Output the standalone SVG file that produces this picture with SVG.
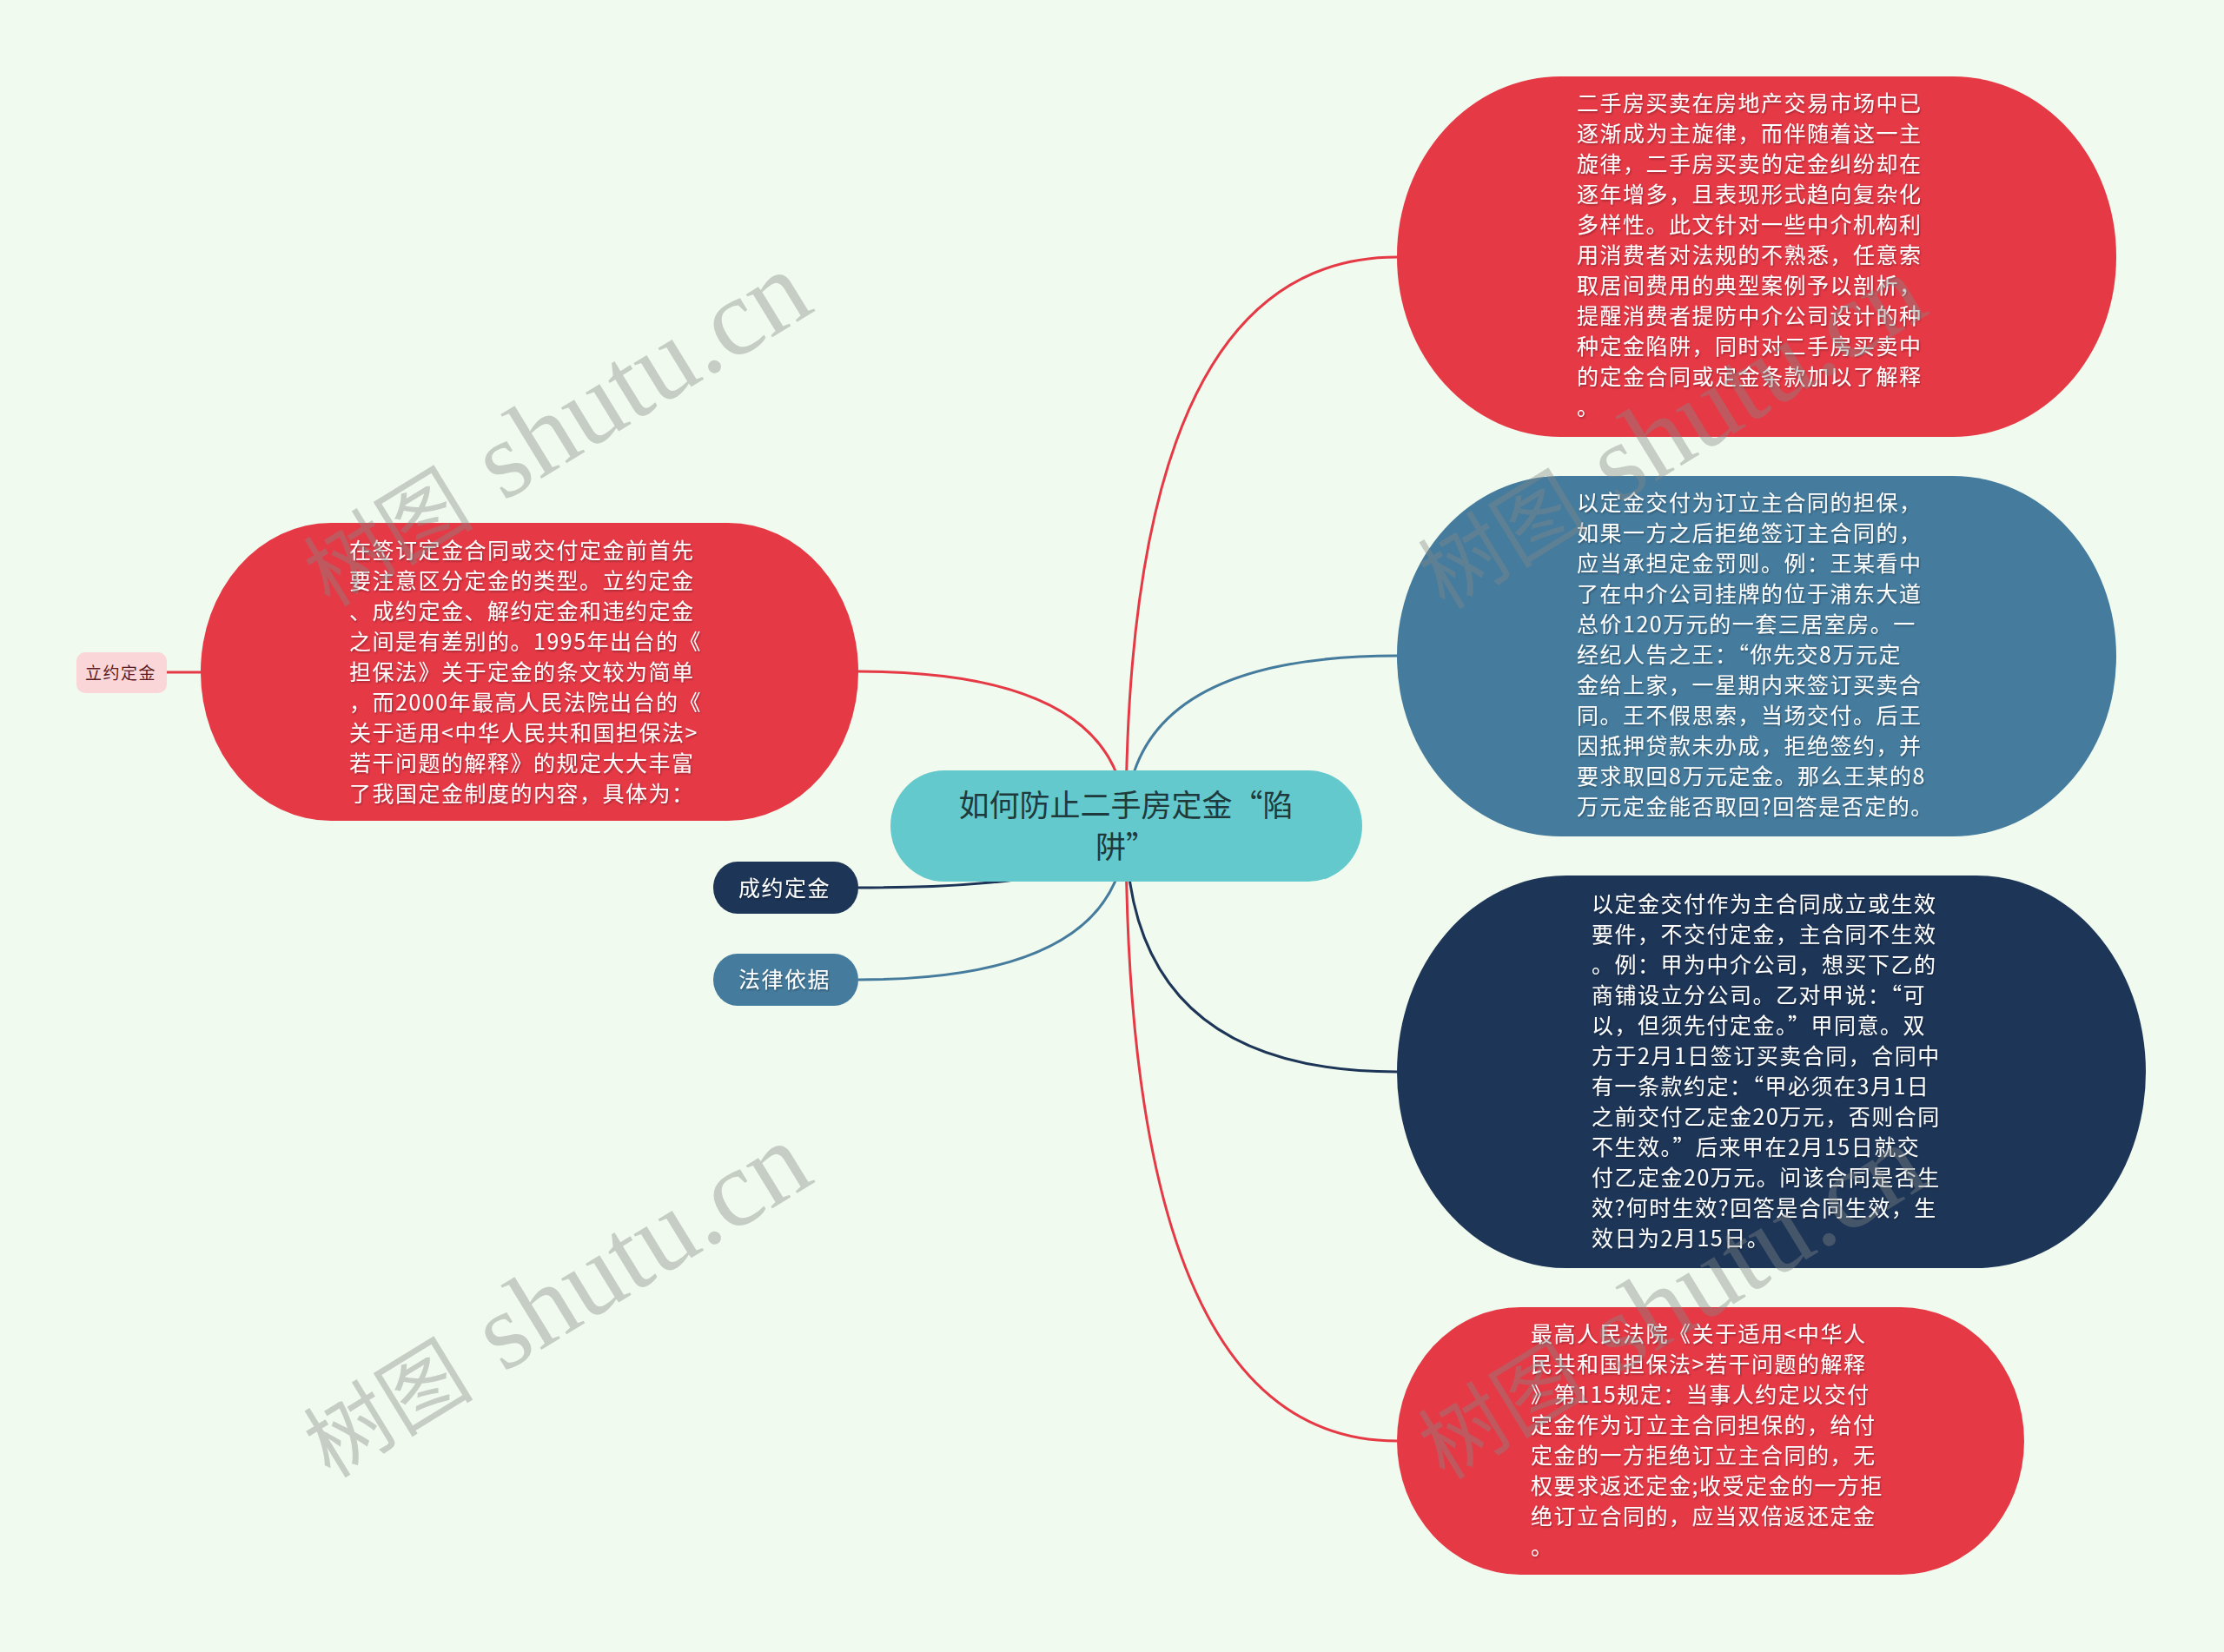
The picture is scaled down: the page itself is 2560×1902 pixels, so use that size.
<svg xmlns="http://www.w3.org/2000/svg" width="2560" height="1902" viewBox="0 0 2560 1902">
<defs>
<filter id="sh" x="-5%" y="-5%" width="110%" height="110%">
<feDropShadow dx="1" dy="1.5" stdDeviation="0.8" flood-color="#000" flood-opacity="0.35"/>
</filter>
</defs>
<style>
.red{fill:#e63946}
.blue{fill:#457b9d}
.navy{fill:#1d3557}
.root{fill:#63c9cc}
.pink{fill:#fad6d9}
.t{font-family:"Noto Sans CJK SC","Noto Sans",sans-serif;font-size:25px;letter-spacing:1.5px;fill:#ffffff;filter:url(#sh)}
.rt{font-family:"Noto Sans CJK SC","Noto Sans",sans-serif;font-size:35px;fill:#1e3a3c}
.lt{font-family:"Noto Sans CJK SC","Noto Sans",sans-serif;font-size:19px;letter-spacing:1.5px;fill:#5c1a22}
.c{fill:none;stroke-width:3}
.cr{stroke:#e63946}
.cb{stroke:#457b9d}
.cn{stroke:#1d3557}
.wm{font-family:"Liberation Serif","Noto Sans CJK SC",serif;fill:#858a86;fill-opacity:0.4}
</style>
<rect x="0" y="0" width="2560" height="1902" fill="#f1faee"/>
<g id="connectors">
<path class="c cr" d="M1296 951 Q1296 296 1608 296"/>
<path class="c cb" d="M1296 951 Q1296 755 1608 755"/>
<path class="c cn" d="M1296 951 Q1296 1234 1608 1234"/>
<path class="c cr" d="M1296 951 Q1296 1659 1608 1659"/>
<path class="c cr" d="M1296 951 Q1296 773 988 773"/>
<path class="c cn" d="M1296 951 Q1296 1022 988 1022"/>
<path class="c cb" d="M1296 951 Q1296 1128 988 1128"/>
<path class="c cr" d="M231 774 L192 774"/>
</g>
<g id="n-root">
<rect class="root" x="1025" y="887" width="543" height="128" rx="62" ry="64"/>
<text class="rt" text-anchor="middle"><tspan x="1296" y="940">如何防止二手房定金“陷</tspan><tspan x="1296" y="988">阱”</tspan></text>
</g>
<g id="n1">
<rect class="red" x="1608" y="88" width="828" height="415" rx="188" ry="207"/>
<text class="t">
<tspan x="1815" y="128">二手房买卖在房地产交易市场中已</tspan>
<tspan x="1815" y="163">逐渐成为主旋律，而伴随着这一主</tspan>
<tspan x="1815" y="198">旋律，二手房买卖的定金纠纷却在</tspan>
<tspan x="1815" y="233">逐年增多，且表现形式趋向复杂化</tspan>
<tspan x="1815" y="268">多样性。此文针对一些中介机构利</tspan>
<tspan x="1815" y="303">用消费者对法规的不熟悉，任意索</tspan>
<tspan x="1815" y="338">取居间费用的典型案例予以剖析，</tspan>
<tspan x="1815" y="373">提醒消费者提防中介公司设计的种</tspan>
<tspan x="1815" y="408">种定金陷阱，同时对二手房买卖中</tspan>
<tspan x="1815" y="443">的定金合同或定金条款加以了解释</tspan>
<tspan x="1815" y="478">。</tspan>
</text>
</g>
<g id="n2">
<rect class="blue" x="1608" y="548" width="828" height="415" rx="188" ry="207"/>
<text class="t">
<tspan x="1815" y="588">以定金交付为订立主合同的担保，</tspan>
<tspan x="1815" y="623">如果一方之后拒绝签订主合同的，</tspan>
<tspan x="1815" y="658">应当承担定金罚则。例：王某看中</tspan>
<tspan x="1815" y="693">了在中介公司挂牌的位于浦东大道</tspan>
<tspan x="1815" y="728">总价120万元的一套三居室房。一</tspan>
<tspan x="1815" y="763">经纪人告之王：“你先交8万元定</tspan>
<tspan x="1815" y="798">金给上家，一星期内来签订买卖合</tspan>
<tspan x="1815" y="833">同。王不假思索，当场交付。后王</tspan>
<tspan x="1815" y="868">因抵押贷款未办成，拒绝签约，并</tspan>
<tspan x="1815" y="903">要求取回8万元定金。那么王某的8</tspan>
<tspan x="1815" y="938">万元定金能否取回?回答是否定的。</tspan>
</text>
</g>
<g id="n3">
<rect class="navy" x="1608" y="1008" width="862" height="452" rx="195" ry="226"/>
<text class="t">
<tspan x="1832" y="1050">以定金交付作为主合同成立或生效</tspan>
<tspan x="1832" y="1085">要件，不交付定金，主合同不生效</tspan>
<tspan x="1832" y="1120">。例：甲为中介公司，想买下乙的</tspan>
<tspan x="1832" y="1155">商铺设立分公司。乙对甲说：“可</tspan>
<tspan x="1832" y="1190">以，但须先付定金。”甲同意。双</tspan>
<tspan x="1832" y="1225">方于2月1日签订买卖合同，合同中</tspan>
<tspan x="1832" y="1260">有一条款约定：“甲必须在3月1日</tspan>
<tspan x="1832" y="1295">之前交付乙定金20万元，否则合同</tspan>
<tspan x="1832" y="1330">不生效。”后来甲在2月15日就交</tspan>
<tspan x="1832" y="1365">付乙定金20万元。问该合同是否生</tspan>
<tspan x="1832" y="1400">效?何时生效?回答是合同生效，生</tspan>
<tspan x="1832" y="1435">效日为2月15日。</tspan>
</text>
</g>
<g id="n4">
<rect class="red" x="1608" y="1505" width="722" height="308" rx="142" ry="154"/>
<text class="t">
<tspan x="1762" y="1545">最高人民法院《关于适用&lt;中华人</tspan>
<tspan x="1762" y="1580">民共和国担保法&gt;若干问题的解释</tspan>
<tspan x="1762" y="1615">》第115规定：当事人约定以交付</tspan>
<tspan x="1762" y="1650">定金作为订立主合同担保的，给付</tspan>
<tspan x="1762" y="1685">定金的一方拒绝订立主合同的，无</tspan>
<tspan x="1762" y="1720">权要求返还定金;收受定金的一方拒</tspan>
<tspan x="1762" y="1755">绝订立合同的，应当双倍返还定金</tspan>
<tspan x="1762" y="1790">。</tspan>
</text>
</g>
<g id="n-left">
<rect class="red" x="231" y="602" width="757" height="343" rx="150" ry="171"/>
<text class="t">
<tspan x="402" y="643">在签订定金合同或交付定金前首先</tspan>
<tspan x="402" y="678">要注意区分定金的类型。立约定金</tspan>
<tspan x="402" y="713">、成约定金、解约定金和违约定金</tspan>
<tspan x="402" y="748">之间是有差别的。1995年出台的《</tspan>
<tspan x="402" y="783">担保法》关于定金的条文较为简单</tspan>
<tspan x="402" y="818">，而2000年最高人民法院出台的《</tspan>
<tspan x="402" y="853">关于适用&lt;中华人民共和国担保法&gt;</tspan>
<tspan x="402" y="888">若干问题的解释》的规定大大丰富</tspan>
<tspan x="402" y="923">了我国定金制度的内容，具体为：</tspan>
</text>
</g>
<g id="n-chengyue">
<rect class="navy" x="821" y="992" width="167" height="60" rx="28" ry="30"/>
<text class="t" x="850" y="1032">成约定金</text>
</g>
<g id="n-falv">
<rect class="blue" x="821" y="1098" width="167" height="60" rx="28" ry="30"/>
<text class="t" x="850" y="1137">法律依据</text>
</g>
<g id="n-liyue">
<rect class="pink" x="88" y="751" width="104" height="47" rx="10" ry="10"/>
<text class="lt" x="98" y="782">立约定金</text>
</g>
<g id="watermarks">
<text class="wm" transform="translate(380 700) rotate(-31.5)"><tspan font-size="98">树图</tspan><tspan font-size="126" dx="6"> shutu.cn</tspan></text>
<text class="wm" transform="translate(1663 703) rotate(-31.5)"><tspan font-size="98">树图</tspan><tspan font-size="126" dx="6"> shutu.cn</tspan></text>
<text class="wm" transform="translate(380 1703) rotate(-31.5)"><tspan font-size="98">树图</tspan><tspan font-size="126" dx="6"> shutu.cn</tspan></text>
<text class="wm" transform="translate(1663 1705) rotate(-31.5)"><tspan font-size="98">树图</tspan><tspan font-size="126" dx="6"> shutu.cn</tspan></text>
</g>
</svg>
